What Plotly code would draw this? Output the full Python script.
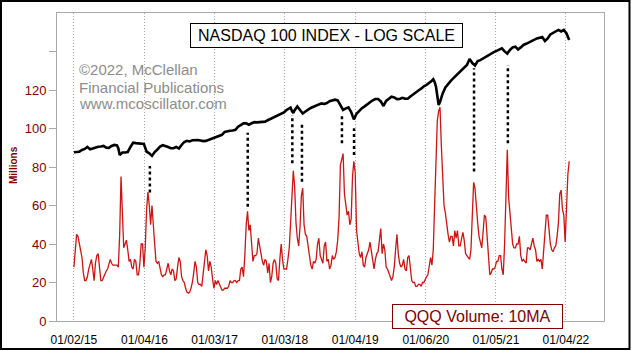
import pandas as pd
import plotly.graph_objects as go

# ---------------- data ----------------
start = pd.Timestamp("2015-01-02")

# QQQ volume, 10-day MA (millions), one reading per week from 2015-01-02
qqq_vol = [
    28, 36, 45, 44, 40, 37, 33, 25, 21, 21,
    23, 27, 30, 32, 27, 21, 30, 34, 35, 28,
    21, 21, 23, 25, 26, 27, 29, 32, 30, 29,
    29, 29, 29, 28, 45, 75, 55, 38, 40, 42,
    37, 31, 32, 28, 27, 32, 31, 24, 24, 30,
    40, 40, 28, 38, 58, 67, 60, 50, 60, 52,
    40, 31, 30, 31, 28, 24, 23, 24, 24, 27,
    30, 26, 24, 27, 26, 21, 22, 28, 33, 31,
    23, 21, 20, 17, 15, 14.5, 15, 17, 20, 25,
    31, 28, 20, 19, 19, 18, 24, 30, 37, 34,
    26, 31, 28, 22, 17, 21, 19, 21, 19, 17,
    16, 16, 17, 17, 17, 18, 21, 20, 20, 21,
    21, 20, 21, 21, 27, 28, 23, 34, 50, 57,
    47, 50, 42, 31, 34, 34, 35, 43, 39, 34,
    31, 29, 32, 31, 25, 30, 20, 23, 30, 32,
    30, 22, 21, 32, 40, 32, 27, 27, 27, 32,
    38, 51, 66, 78, 70, 51, 43, 39, 49, 65,
    69, 50, 45, 44, 39, 34, 29, 27, 31, 30,
    32, 40, 43, 34, 32, 30, 39, 41, 31, 32,
    27, 29, 34, 32, 33, 36, 42, 54, 81, 85,
    87, 66, 61, 55, 57, 50, 53, 75, 83, 77,
    47, 41, 35, 33, 36, 29, 28, 33, 35, 37,
    41, 37, 31, 27, 32, 35, 36, 42, 48, 35,
    40, 37, 28, 27, 25, 23, 21, 23, 28, 37,
    45, 35, 30, 28, 29, 32, 27, 26, 33, 34,
    27, 21, 20, 20, 18, 18, 19, 19, 18, 20,
    20, 22, 23, 24, 28, 33, 29, 37, 60, 84,
    104, 109, 111, 91, 72, 60, 56, 49, 45, 41,
    44, 44, 39, 47, 43, 47, 39, 39, 43, 46,
    42, 35, 34, 33, 32, 37, 57, 72, 69, 58,
    51, 44, 41, 38, 46, 55, 54, 45, 31, 24,
    25, 27, 27, 28, 31, 31, 34, 34, 27, 24,
    40, 62, 89, 64, 55, 44, 40, 38, 38, 40,
    40, 44, 34, 31, 32, 31, 30, 38, 38, 37,
    41, 43, 39, 37, 31, 32, 31, 32, 27, 36,
    46, 55, 55, 46, 40, 37, 36, 38, 39, 44,
    51, 66, 68, 58, 55, 41, 59, 76, 83,
]

# NASDAQ 100 index (log scale) readings: week number since 2015-01-02 and value
ndx_week = [
    0, 2, 4, 6, 8, 10, 12, 14, 16, 18, 20, 22, 24, 26, 28, 30, 32, 33, 34, 36,
    38, 40, 42, 44, 46, 48, 50, 52, 54, 56, 58, 60, 62, 64, 66, 68, 70, 72, 74, 76,
    78, 80, 82, 84, 86, 88, 90, 92, 94, 96, 98, 100, 102, 104, 106, 108, 110, 112, 114, 116,
    118, 120, 122, 124, 126, 128, 130, 132, 134, 136, 138, 140, 142, 144, 146, 148, 150, 152, 154, 156,
    158, 160, 161, 162, 163, 164, 166, 168, 170, 172, 174, 176, 178, 180, 182, 184, 186, 188, 190, 192,
    194, 196, 198, 200, 202, 204, 206, 208, 210, 212, 214, 216, 218, 220, 222, 224, 226, 228, 230, 232,
    234, 236, 238, 240, 242, 244, 246, 248, 250, 252, 254, 256, 258, 260, 262, 264, 266, 267, 268, 269,
    270, 271, 272, 273, 274, 276, 278, 280, 282, 284, 286, 288, 290, 292, 294, 296, 298, 300, 302, 304,
    306, 308, 310, 312, 314, 316, 318, 320, 322, 324, 326, 328, 330, 332, 334, 336, 338, 340, 342, 344,
    346, 348, 350, 352, 354, 356, 358, 360, 362, 364, 366, 368,
]
ndx_val = [
    4220, 4230, 4245, 4326, 4375, 4474, 4360, 4400, 4455, 4490, 4500, 4530, 4440, 4430, 4525, 4576, 4550, 4410, 4090, 4205,
    4205, 4230, 4474, 4690, 4670, 4665, 4628, 4628, 4245, 4170, 4050, 4230, 4350, 4490, 4560, 4530, 4474, 4410, 4410, 4474,
    4395, 4576, 4731, 4795, 4760, 4820, 4850, 4840, 4815, 4780, 4790, 4840, 4875, 4955, 5004, 5050, 5125, 5292, 5352, 5370,
    5380, 5420, 5610, 5735, 5830, 5835, 5740, 5835, 5905, 5890, 5900, 5919, 5940, 6035, 6120, 6220, 6310, 6400, 6505, 6580,
    6770, 6925, 6950, 6700, 6540, 6755, 7040, 6770, 6505, 6655, 6805, 6925, 7020, 7120, 7200, 7290, 7240, 7320, 7470, 7545,
    7595, 7530, 7160, 6770, 6890, 6965, 6620, 6090, 6490, 6710, 6905, 7050, 7215, 7430, 7545, 7655, 7655, 7450, 7080, 7490,
    7715, 7860, 7790, 7640, 7655, 7755, 7690, 7680, 7880, 8085, 8283, 8420, 8590, 8830, 8965, 9145, 9395, 9555, 9265, 8790,
    8015, 7160, 7405, 7790, 8145, 8710, 9065, 9370, 9660, 9965, 10250, 10600, 10925, 11195, 11980, 11450, 11140, 11710, 11830, 12050,
    12330, 12520, 12700, 12935, 13110, 13330, 13480, 13040, 12730, 13255, 13640, 13760, 13330, 13640, 14020, 14200, 14420, 14630, 14920, 15080,
    15215, 15336, 14665, 15080, 15760, 16040, 16275, 16590, 16310, 16590, 15950, 14830,
]

# dotted connectors: date, lower end and upper end (in millions, left scale)
event_dates = ["2016-02-01", "2017-06-24", "2018-02-11", "2018-04-02",
               "2018-10-27", "2018-12-29", "2020-09-13", "2021-03-08"]
event_low = [66.7, 59.4, 81.9, 72.4, 92.3, 86.2, 77.6, 92.3]
event_high = [80.5, 97.8, 107.0, 102.7, 107.9, 100.1, 131.3, 133.0]

x_tick_dates = ["2015-01-02", "2016-01-04", "2017-01-03", "2018-01-03",
                "2019-01-04", "2020-01-06", "2021-01-05", "2022-01-04"]
x_tick_text = ["01/02/15", "01/04/16", "01/03/17", "01/03/18",
               "01/04/19", "01/06/20", "01/05/21", "01/04/22"]
y_tick_vals = [0, 20, 40, 60, 80, 100, 120, 140]
y_tick_text = ["0", "20", "40", "60", "80", "100", "120", ""]

# ---------------- figure ----------------
vol_dates = pd.date_range(start, periods=len(qqq_vol), freq="7D")
ndx_dates = [start + pd.Timedelta(weeks=w) for w in ndx_week]

FONT = "Arial, Liberation Sans, sans-serif"
DARKRED = "#800000"

fig = go.Figure()
fig.add_trace(go.Scatter(x=vol_dates, y=qqq_vol, mode="lines",
                         line=dict(color="#cc1414", width=1.3), yaxis="y",
                         hoverinfo="skip", showlegend=False))
fig.add_trace(go.Scatter(x=ndx_dates, y=ndx_val, mode="lines",
                         line=dict(color="black", width=2.6), yaxis="y2",
                         hoverinfo="skip", showlegend=False))

ex, ey = [], []
for d, lo, hi in zip(event_dates, event_low, event_high):
    ex += [d, d, None]
    ey += [lo, hi, None]
fig.add_trace(go.Scatter(x=ex, y=ey, mode="lines", yaxis="y",
                         line=dict(color="black", width=2.5, dash="dot"),
                         hoverinfo="skip", showlegend=False))

GRID = "#a8a8a8"
fig.update_layout(
    width=631, height=351,
    margin=dict(l=57, r=27, t=13, b=30),
    paper_bgcolor="white", plot_bgcolor="white",
    font=dict(family=FONT),
    xaxis=dict(type="date", range=["2014-10-06", "2022-07-21"],
               tickvals=x_tick_dates, ticktext=x_tick_text,
               showgrid=True, gridcolor=GRID, griddash="1px,2px", gridwidth=1,
               showline=True, linecolor="#aaaaaa", linewidth=1, mirror=True,
               ticks="", zeroline=False, ticklabelstandoff=8, automargin=False,
               tickfont=dict(size=12, color="black", family=FONT)),
    yaxis=dict(range=[0, 160], tickvals=y_tick_vals, ticktext=y_tick_text,
               ticks="outside", ticklen=7, tickcolor="#aaaaaa", tickwidth=1,
               showgrid=False, zeroline=False, automargin=False,
               showline=True, linecolor="#aaaaaa", linewidth=1, mirror=True,
               tickfont=dict(size=13, color=DARKRED, family=FONT)),
    yaxis2=dict(type="log", range=[2.8047, 4.3020], overlaying="y",
                visible=False, showgrid=False, automargin=False),
    showlegend=False,
)

# outer frame
fig.add_shape(type="rect", xref="paper", yref="paper",
              x0=-0.1024, x1=1.0466, y0=-0.0909, y1=1.039,
              line=dict(color="black", width=2), fillcolor="rgba(0,0,0,0)")

fig.add_annotation(xref="paper", yref="paper", x=0.4927, y=0.927,
                   text="NASDAQ 100 INDEX - LOG SCALE", showarrow=False,
                   xanchor="center", yanchor="middle",
                   font=dict(size=16, color="black", family=FONT),
                   bgcolor="white", bordercolor="black", borderwidth=1,
                   borderpad=1, width=269, height=21)
fig.add_annotation(xref="paper", yref="paper", x=0.7687, y=0.0146,
                   text="QQQ Volume: 10MA", showarrow=False,
                   xanchor="center", yanchor="middle",
                   font=dict(size=16, color=DARKRED, family=FONT),
                   bgcolor="white", bordercolor=DARKRED, borderwidth=1,
                   borderpad=1, width=167, height=21)
for txt, yy in [("©2022, McClellan", 0.8166),
                ("Financial Publications", 0.7597),
                ("www.mcoscillator.com", 0.7062)]:
    fig.add_annotation(xref="paper", yref="paper", x=0.0366, y=yy, text=txt,
                       showarrow=False, xanchor="left", yanchor="middle",
                       font=dict(size=15, color="#8c8c8c", family=FONT))
fig.add_annotation(xref="paper", yref="paper", x=-0.0786, y=0.5065,
                   text="Millions", showarrow=False, textangle=-90,
                   xanchor="center", yanchor="middle",
                   font=dict(size=10, color=DARKRED, family=FONT, weight="bold"))

fig.write_html("out.html")
